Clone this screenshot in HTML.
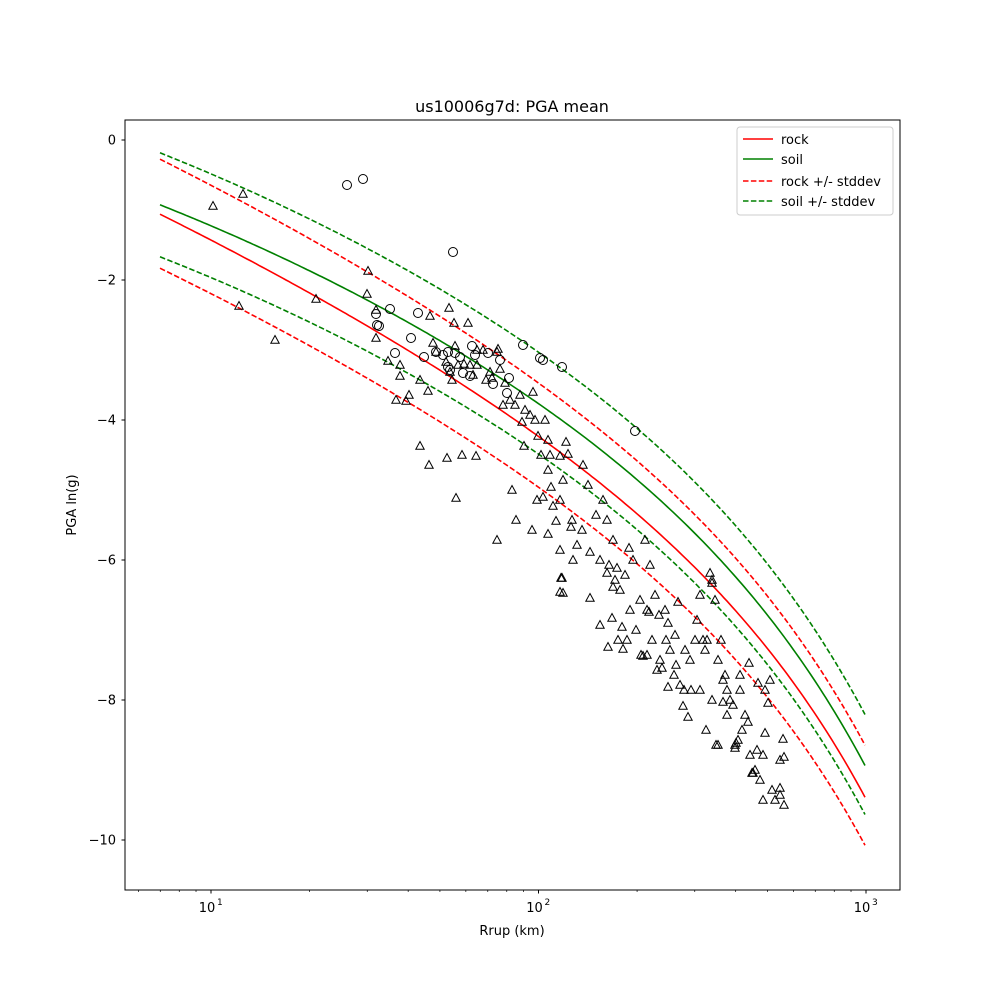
<!DOCTYPE html>
<html><head><meta charset="utf-8"><style>body{margin:0;background:#fff}svg{display:block;font-family:"DejaVu Sans","Liberation Sans",sans-serif}</style></head>
<body>
<svg id="s" width="1000" height="1000" xmlns="http://www.w3.org/2000/svg">
<rect width="1000" height="1000" fill="#fff"/>
<text x="512" y="112" font-size="16" text-anchor="middle">us10006g7d: PGA mean</text>
<text x="512" y="935" font-size="13" text-anchor="middle">Rrup (km)</text>
<text x="76" y="505" font-size="13" text-anchor="middle" transform="rotate(-90 76 505)">PGA ln(g)</text>
<g id="g"></g>
<rect x="125" y="120" width="775" height="770" fill="none" stroke="#000" stroke-width="1"/>
<g>
<rect x="737" y="127" width="156" height="88" rx="3" fill="#fff" fill-opacity="0.8" stroke="#ccc"/>
<line x1="743" y1="139" x2="773" y2="139" stroke="red" stroke-width="1.5"/><text x="781" y="144" font-size="13">rock</text>
<line x1="743" y1="159" x2="773" y2="159" stroke="green" stroke-width="1.5"/><text x="781" y="164" font-size="13">soil</text>
<line x1="743" y1="181" x2="773" y2="181" stroke="red" stroke-width="1.5" stroke-dasharray="5.5,2.4"/><text x="781" y="186" font-size="13">rock +/- stddev</text>
<line x1="743" y1="201" x2="773" y2="201" stroke="green" stroke-width="1.5" stroke-dasharray="5.5,2.4"/><text x="781" y="206" font-size="13">soil +/- stddev</text>
</g>
</svg>
<script>
const NS="http://www.w3.org/2000/svg",g=document.getElementById('g');
function el(t,a){const e=document.createElementNS(NS,t);for(const k in a)e.setAttribute(k,a[k]);g.appendChild(e);return e;}
for(let v=0;v>=-10;v-=2){const y=140-70*v;el('line',{x1:121.5,x2:125,y1:y,y2:y,stroke:'#000'});const t=el('text',{x:116,y:y+4.5,'font-size':13,'text-anchor':'end'});t.textContent=v==0?'0':'\u2212'+(-v);}
const X=r=>211+(Math.log10(r)-1)*327.5;
for(let d=1;d<=3;d++){const x=X(Math.pow(10,d));el('line',{x1:x,x2:x,y1:890,y2:893.5,stroke:'#000'});const t=el('text',{x:x-4,y:912,'font-size':13,'text-anchor':'middle'});t.textContent='10';const s=el('text',{x:x+6,y:905,'font-size':9});s.textContent=d;}
for(let d=0;d<3;d++)for(let m=2;m<10;m++){const x=X(m*Math.pow(10,d));if(x<125)continue;el('line',{x1:x,x2:x,y1:890,y2:892,stroke:'#000','stroke-width':0.7});}
const basis=x=>{const u=(x-160)/327.5,R=7*Math.pow(10,u);return [1,u,u*u,R];};
function fit(P){const n=4,A=[...Array(n)].map(()=>Array(n+1).fill(0));P.forEach(([x,y])=>{const b=basis(x);for(let i=0;i<n;i++){for(let j=0;j<n;j++)A[i][j]+=b[i]*b[j];A[i][n]+=b[i]*y;}});
for(let i=0;i<n;i++){let p=i;for(let r=i+1;r<n;r++)if(Math.abs(A[r][i])>Math.abs(A[p][i]))p=r;[A[i],A[p]]=[A[p],A[i]];for(let r=0;r<n;r++)if(r!=i){const f=A[r][i]/A[i][i];for(let c=i;c<=n;c++)A[r][c]-=f*A[i][c];}}
const w=A.map((r,i)=>r[n]/r[i]);return x=>basis(x).reduce((s,b,i)=>s+b*w[i],0);}
const RK=fit([[160,218],[200,235],[250,260],[300,283],[350,313],[417,353],[483,397],[538,440],[550,448],[630,513],[697,575],[763,636],[813,700],[865,805]]);
const SO=fit([[160,207],[250,240],[350,290],[450,347],[550,415],[630,472],[730,573],[813,673],[865,768]]);
function path(F,off,col,dash){let d='';for(let x=160;x<=866;x+=3){const xx=Math.min(x,866);d+=(d?'L':'M')+xx+','+(F(xx)+off((xx-160)/706)).toFixed(1);}el('path',{d:d,fill:'none',stroke:col,'stroke-width':1.6,'stroke-dasharray':dash||'none'});}
path(RK,f=>0,'red');path(RK,f=>-55+3*f,'red','5.5,2.4');path(RK,f=>54-6*f,'red','5.5,2.4');
path(SO,f=>0,'green');path(SO,f=>-52+1*f,'green','5.5,2.4');path(SO,f=>52-3*f,'green','5.5,2.4');
const C=[[347,185],[363,179],[453,252],[376,314],[377,325],[379,326],[390,309],[418,313],[411,338],[395,353],[424,357],[436,352],[443,355],[448,352],[455,353],[460,357],[472,346],[475,355],[488,353],[493,384],[509,378],[507,393],[523,345],[448,367],[463,373],[470,376],[540,358],[543,360],[562,367],[635,431],[450,370],[500,360]];
C.forEach(p=>el('circle',{cx:p[0],cy:p[1],r:4.5,fill:'none',stroke:'#000'}));
const T=[[213,206],[243,194],[239,306],[275,340],[316,299],[368,271],[367,294],[376,310],[376,338],[388,361],[400,376],[406,401],[409,395],[430,316],[449,308],[454,323],[468,323],[433,343],[436,352],[446,362],[450,372],[452,380],[464,364],[455,346],[470,365],[477,365],[497,352],[483,350],[490,372],[498,349],[500,369],[505,383],[510,400],[515,405],[503,405],[520,395],[522,422],[525,410],[530,415],[533,392],[535,420],[538,436],[541,455],[545,420],[548,440],[550,455],[548,470],[551,487],[543,497],[553,506],[556,521],[560,456],[563,480],[566,442],[568,454],[560,500],[571,527],[573,560],[577,545],[583,465],[588,485],[596,515],[603,500],[607,520],[613,540],[617,568],[620,590],[625,575],[629,548],[633,560],[640,600],[645,540],[650,565],[655,595],[659,615],[660,660],[665,610],[668,623],[675,635],[680,685],[685,650],[690,660],[697,620],[700,595],[703,640],[707,640],[712,580],[715,600],[718,660],[721,640],[725,675],[727,690],[730,700],[735,745],[740,690],[745,715],[750,755],[755,770],[760,780],[765,690],[770,680],[775,800],[780,760],[784,805],[784,757],[400,365],[420,380],[428,391],[396,400],[458,365],[473,375],[477,350],[486,380],[492,378],[420,446],[429,465],[447,458],[456,498],[462,455],[476,456],[497,540],[512,490],[516,520],[524,446],[532,530],[537,500],[548,534],[560,550],[561,578],[563,593],[572,520],[582,530],[590,552],[600,560],[609,565],[615,580],[622,627],[630,610],[636,630],[647,655],[652,640],[662,668],[670,650],[676,665],[684,690],[695,640],[700,690],[705,650],[716,745],[723,702],[733,705],[738,740],[742,730],[752,773],[757,750],[763,755],[772,790],[780,795],[590,598],[600,625],[612,618],[618,640],[627,640],[641,655],[649,612],[657,670],[666,640],[674,675],[683,706],[691,690],[706,730],[712,700],[727,715],[736,743],[748,722],[560,592],[562,578],[608,647],[623,649],[643,656],[668,687],[688,717],[718,745],[735,748],[753,773],[763,800],[780,788],[765,733],[783,739],[607,573],[613,587],[647,610],[678,602],[710,573],[712,583],[749,663],[758,683],[768,703],[723,680],[740,675]];
T.forEach(p=>el('path',{d:`M${p[0]},${p[1]-4.5}L${p[0]+4.2},${p[1]+3.3}L${p[0]-4.2},${p[1]+3.3}Z`,fill:'none',stroke:'#000'}));
</script>
</body></html>
